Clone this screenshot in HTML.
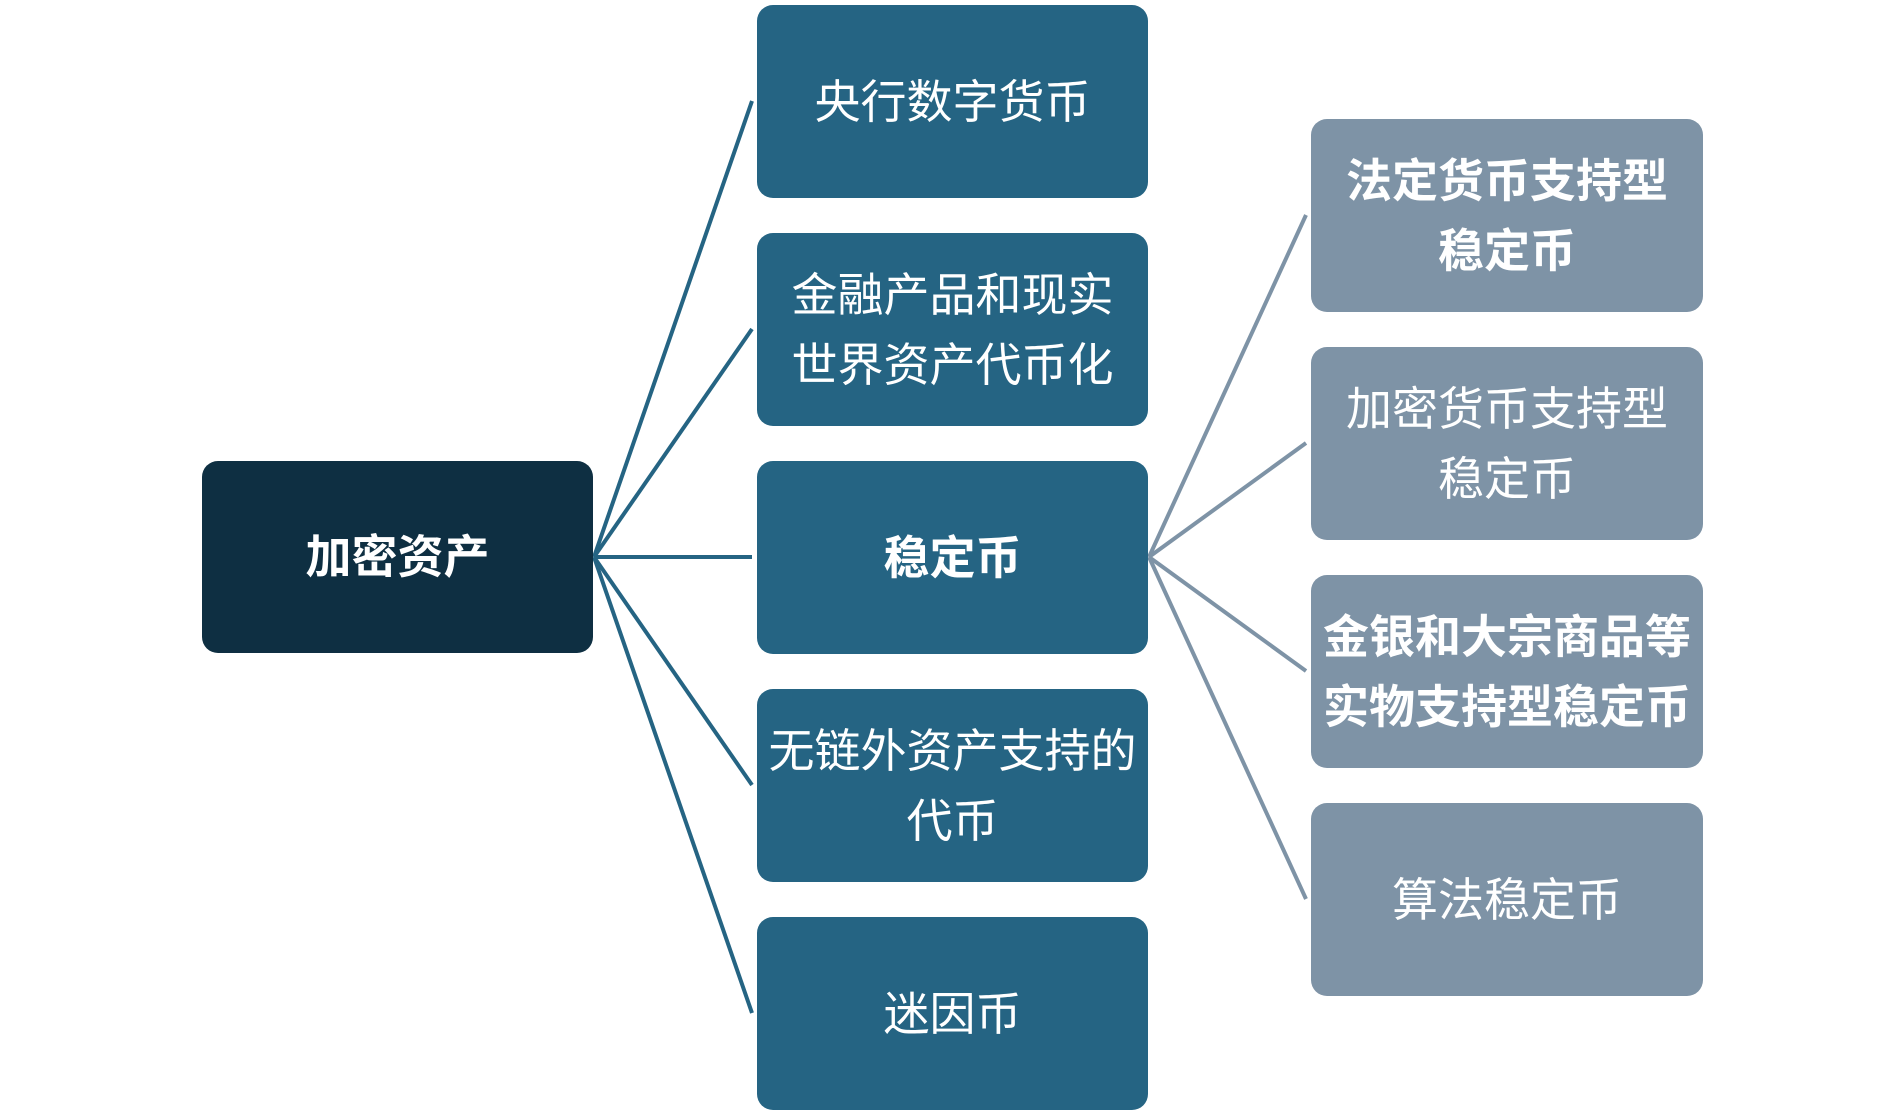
<!DOCTYPE html>
<html>
<head>
<meta charset="utf-8">
<style>
  html, body { margin:0; padding:0; background:#ffffff; }
  body { width:1903px; height:1115px; position:relative; overflow:hidden;
         font-family:"Liberation Sans","Noto Sans CJK SC","WenQuanYi Zen Hei",sans-serif; }
  .box { position:absolute; border-radius:16px; color:#ffffff; display:flex;
         align-items:center; justify-content:center; text-align:center;
         font-size:46px; line-height:70px; white-space:nowrap; }
  .root { background:#0e2f42; }
  .mid { background:#256483; }
  .rt { background:#7e93a6; }
  .b { font-weight:bold; }
  svg { position:absolute; left:0; top:0; }
</style>
</head>
<body>
<svg width="1903" height="1115" viewBox="0 0 1903 1115">
  <g stroke="#256483" stroke-width="4" fill="none">
    <line x1="594" y1="557" x2="752" y2="101"/>
    <line x1="594" y1="557" x2="752" y2="329"/>
    <line x1="594" y1="557" x2="752" y2="557"/>
    <line x1="594" y1="557" x2="752" y2="785"/>
    <line x1="594" y1="557" x2="752" y2="1013"/>
  </g>
  <g stroke="#7e93a6" stroke-width="4" fill="none">
    <line x1="1149" y1="557" x2="1306" y2="215"/>
    <line x1="1149" y1="557" x2="1306" y2="443"/>
    <line x1="1149" y1="557" x2="1306" y2="671"/>
    <line x1="1149" y1="557" x2="1306" y2="899"/>
  </g>
</svg>

<div class="box root b" style="left:202px;top:461px;width:391px;height:192px;">加密资产</div>

<div class="box mid" style="left:757px;top:5px;width:391px;height:193px;">央行数字货币</div>
<div class="box mid" style="left:757px;top:233px;width:391px;height:193px;">金融产品和现实<br>世界资产代币化</div>
<div class="box mid b" style="left:757px;top:461px;width:391px;height:193px;">稳定币</div>
<div class="box mid" style="left:757px;top:689px;width:391px;height:193px;">无链外资产支持的<br>代币</div>
<div class="box mid" style="left:757px;top:917px;width:391px;height:193px;">迷因币</div>

<div class="box rt b" style="left:1311px;top:119px;width:392px;height:193px;">法定货币支持型<br>稳定币</div>
<div class="box rt" style="left:1311px;top:347px;width:392px;height:193px;">加密货币支持型<br>稳定币</div>
<div class="box rt b" style="left:1311px;top:575px;width:392px;height:193px;">金银和大宗商品等<br>实物支持型稳定币</div>
<div class="box rt" style="left:1311px;top:803px;width:392px;height:193px;">算法稳定币</div>
</body>
</html>
